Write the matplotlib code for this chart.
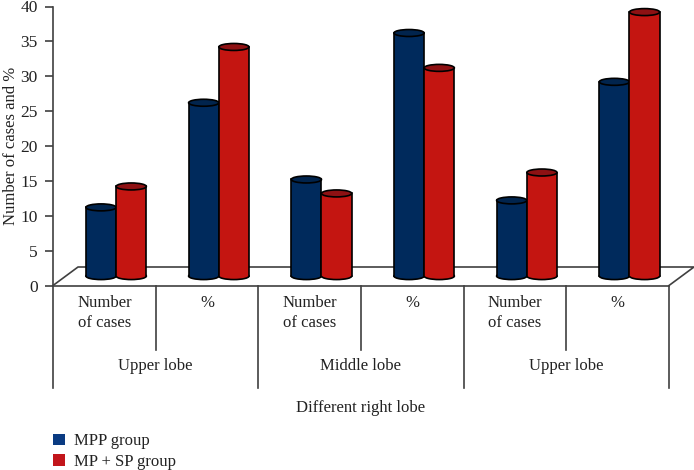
import matplotlib
matplotlib.use('Agg')
import matplotlib.pyplot as plt
from matplotlib.patches import Rectangle, Ellipse, Patch

plt.rcParams['font.family'] = ['Liberation Serif', 'DejaVu Serif']

# dados
mpp = [10, 25, 14, 35, 11, 28]
mp_sp = [13, 33, 12, 30, 15, 38]
sub_labels = ['Number\nof cases', '%', 'Number\nof cases', '%', 'Number\nof cases', '%']
lobes = ['Upper lobe', 'Middle lobe', 'Upper lobe']
yticks = [0, 5, 10, 15, 20, 25, 30, 35, 40]

cor_azul = '#002a5c'
cor_azul_topo = '#01244d'
cor_verm = '#c41511'
cor_verm_topo = '#8e1113'
cor_eixo = '#404040'
cor_texto = '#222222'
fs = 12

W, H = 694, 470
x0, x1, y0, y1 = 53, 669, 285.5, 6.5  # caixa dos eixos em pixels

fig = plt.figure(figsize=(W / 100, H / 100), dpi=100)
ax = fig.add_axes([x0 / W, 1 - y0 / H, (x1 - x0) / W, (y0 - y1) / H])
ax.set_xlim(0, 6)
ax.set_ylim(0, 40)
ax.patch.set_visible(False)
for s in ['top', 'right', 'bottom', 'left']:
    ax.spines[s].set_visible(False)

ax.set_xticks([])
ax.set_yticks(yticks)
ax.tick_params(axis='y', length=6, width=1.2, color=cor_eixo, labelsize=12.5,
               labelcolor=cor_texto, pad=5)
ax.set_ylabel('Number of cases and %', fontsize=fs, color=cor_texto)
# a coordenada x é a borda direita do texto girado
ax.yaxis.set_label_coords((19 - x0) / (x1 - x0), (y0 - 146) / (y0 - y1))

px_x = 6 / (x1 - x0)
px_y = 40 / (y0 - y1)


def ypx(p):
    # pixel vertical da imagem -> valor do eixo y
    return (y0 - p) * px_y


# piso em perspectiva
depth_x = 25 * px_x
depth_y = 18.5 * px_y
ax.plot([0, depth_x, 6 + depth_x, 6], [0, depth_y, depth_y, 0], color=cor_eixo, lw=1.2,
        clip_on=False, zorder=1)
ax.plot([0, 6], [0, 0], color=cor_eixo, lw=1.2, clip_on=False, zorder=1)

# eixo y e divisores das categorias
ax.plot([0, 0], [40, ypx(388)], color=cor_eixo, lw=1.2, clip_on=False, zorder=1)
for i in range(1, 7):
    fim = 388 if i % 2 == 0 else 349.5
    ax.plot([i, i], [0, ypx(fim)], color=cor_eixo, lw=1.2, clip_on=False, zorder=1)

base = 1.35
larg = 30.2 * px_x
alt = 1.0


def cilindro(xc, valor, cor, cor_topo, z):
    topo = valor + 1.2
    ax.add_patch(Ellipse((xc, base), larg, alt, fc=cor, ec='black', lw=1.2, zorder=z, clip_on=False))
    ax.add_patch(Rectangle((xc - larg / 2, base), larg, topo - base, fc=cor, ec='none', zorder=z, clip_on=False))
    ax.plot([xc - larg / 2, xc - larg / 2], [base, topo], color='black', lw=1.2, zorder=z, clip_on=False)
    ax.plot([xc + larg / 2, xc + larg / 2], [base, topo], color='black', lw=1.2, zorder=z, clip_on=False)
    ax.add_patch(Ellipse((xc, topo), larg, alt, fc=cor_topo, ec='black', lw=1.2, zorder=z, clip_on=False))


for i in range(len(mpp)):
    c = i + 0.615
    cilindro(c - larg / 2, mpp[i], cor_azul, cor_azul_topo, 3 + i * 2)
    cilindro(c + larg / 2, mp_sp[i], cor_verm, cor_verm_topo, 4 + i * 2)

# rótulos
for i, t in enumerate(sub_labels):
    ax.text(i + 0.5, ypx(313 if '\n' in t else 303), t, ha='center', va='center', fontsize=fs,
            color=cor_texto, linespacing=1.3)
for i, t in enumerate(lobes):
    ax.text(2 * i + 1, ypx(366), t, ha='center', va='center', fontsize=fs, color=cor_texto)
ax.text(3, ypx(407.5), 'Different right lobe', ha='center', va='center', fontsize=fs, color=cor_texto)

handles = [Patch(fc='#0a3b82', ec='none', label='MPP group'),
           Patch(fc='#c2161b', ec='none', label='MP + SP group')]
fig.legend(handles=handles, loc='lower left', bbox_to_anchor=(53 / W, 0), frameon=False,
           fontsize=fs, handlelength=0.72, handleheight=0.72, handletextpad=0.55,
           labelspacing=0.28, labelcolor=cor_texto, borderpad=0.0, borderaxespad=0.0)

fig.savefig('out.png', dpi=100)
